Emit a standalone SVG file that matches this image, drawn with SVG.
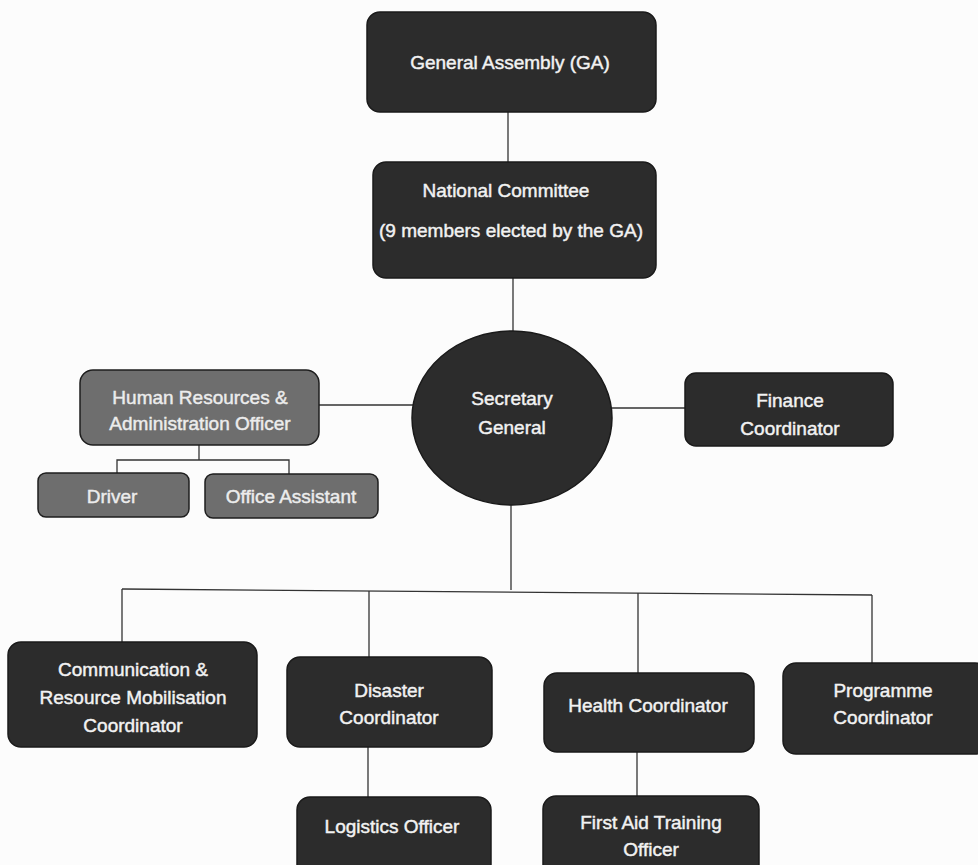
<svg xmlns="http://www.w3.org/2000/svg" width="978" height="865" viewBox="0 0 978 865">
<style>
.dark{fill:#2c2c2c;stroke:#1a1a1a;stroke-width:1.5}
.grey{fill:#6e6e6e;stroke:#1e1e1e;stroke-width:1.5}
.t{font-family:"Liberation Sans",Arial,sans-serif;font-size:19px;fill:#f2f2f2;stroke:#f2f2f2;stroke-width:0.45;text-anchor:middle;dominant-baseline:central}
.tg{fill:#ececec;stroke:#ececec}
.c{stroke:#333;stroke-width:1.3;fill:none}
</style>
<rect width="978" height="865" fill="#fcfcfc"/>
<g id="connectors">
<line class="c" x1="508" y1="112" x2="508" y2="162"/>
<line x1="508" y1="87" x2="508" y2="112" stroke="#9a9a9a" stroke-width="1"/>
<line class="c" x1="513" y1="278" x2="513" y2="331"/>
<line class="c" x1="319" y1="405" x2="413" y2="405"/>
<line class="c" x1="612" y1="408" x2="685" y2="408"/>
<polyline class="c" points="199,445 199,460"/>
<polyline class="c" points="117,473 117,460 289,460 289,474"/>
<line class="c" x1="511" y1="505" x2="511" y2="590"/>
<line class="c" x1="122" y1="589" x2="872" y2="595"/>
<line class="c" x1="122" y1="589" x2="122" y2="642"/>
<line class="c" x1="369" y1="591" x2="369" y2="657"/>
<line class="c" x1="638" y1="593" x2="638" y2="673"/>
<line class="c" x1="872" y1="595" x2="872" y2="663"/>
<line class="c" x1="368" y1="747" x2="368" y2="797"/>
<line class="c" x1="637" y1="752" x2="637" y2="796"/>
</g>
<g id="ga">
<rect class="dark" x="367" y="12" width="289" height="100" rx="13"/>
<text class="t" x="510" y="62">General Assembly (GA)</text>
</g>
<g id="nc">
<rect class="dark" x="373" y="162" width="283" height="116" rx="13"/>
<text class="t" x="506" y="190">National Committee</text>
<text class="t" x="511" y="230">(9 members elected by the GA)</text>
</g>
<g id="sg">
<ellipse class="dark" cx="512" cy="418" rx="100" ry="87"/>
<text class="t" x="512" y="398">Secretary</text>
<text class="t" x="512" y="427">General</text>
</g>
<g id="hr">
<rect class="grey" x="80" y="370" width="239" height="75" rx="13"/>
<text class="t tg" x="200" y="397">Human Resources &amp;</text>
<text class="t tg" x="200" y="423">Administration Officer</text>
</g>
<g id="finance">
<rect class="dark" x="685" y="373" width="208" height="73" rx="11"/>
<text class="t" x="790" y="400">Finance</text>
<text class="t" x="790" y="428">Coordinator</text>
</g>
<g id="driver">
<rect class="grey" x="38" y="473" width="151" height="44" rx="8"/>
<text class="t tg" x="112" y="496">Driver</text>
</g>
<g id="office-assistant">
<rect class="grey" x="205" y="474" width="173" height="44" rx="8"/>
<text class="t tg" x="291" y="496">Office Assistant</text>
</g>
<g id="comm">
<rect class="dark" x="8" y="642" width="249" height="105" rx="13"/>
<text class="t" x="133" y="669">Communication &amp;</text>
<text class="t" x="133" y="697">Resource Mobilisation</text>
<text class="t" x="133" y="725">Coordinator</text>
</g>
<g id="disaster">
<rect class="dark" x="287" y="657" width="205" height="90" rx="13"/>
<text class="t" x="389" y="690">Disaster</text>
<text class="t" x="389" y="717">Coordinator</text>
</g>
<g id="health">
<rect class="dark" x="544" y="673" width="210" height="79" rx="13"/>
<text class="t" x="648" y="705">Health Coordinator</text>
</g>
<g id="programme">
<rect class="dark" x="783" y="663" width="205" height="91" rx="13"/>
<text class="t" x="883" y="690">Programme</text>
<text class="t" x="883" y="717">Coordinator</text>
</g>
<g id="logistics">
<rect class="dark" x="297" y="797" width="194" height="80" rx="13"/>
<text class="t" x="392" y="826">Logistics Officer</text>
</g>
<g id="firstaid">
<rect class="dark" x="543" y="796" width="216" height="81" rx="13"/>
<text class="t" x="651" y="822">First Aid Training</text>
<text class="t" x="651" y="849">Officer</text>
</g>
</svg>
